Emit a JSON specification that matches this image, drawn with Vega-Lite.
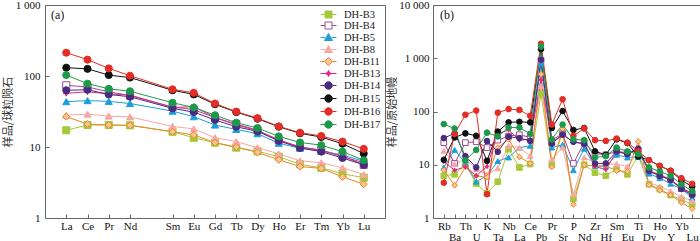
{
  "$schema": "https://vega.github.io/schema/vega-lite/v6.json",
  "padding": {"left": 1, "top": -2, "right": 0, "bottom": 0},
  "spacing": 0,
  "config": {
    "font": "Liberation Serif",
    "view": {"stroke": "#666", "strokeWidth": 1},
    "axis": {"grid": false, "domain": false, "tickColor": "#666", "tickSize": -4, "labelFont": "Liberation Serif", "labelFontSize": 11, "labelColor": "#111", "titleFont": "Noto Sans CJK SC", "titleFontSize": 11, "titleFontWeight": "normal", "titleColor": "#333", "titlePadding": 2},
    "legend": {"labelFont": "Liberation Serif", "labelFontSize": 10.5, "labelColor": "#222"}
  },
  "datasets": {
    "ree": [
      {"s":"DH-B3","e":"La","v":17.2},{"s":"DH-B3","e":"Ce","v":20.4},{"s":"DH-B3","e":"Pr","v":20.4},{"s":"DH-B3","e":"Nd","v":20.2},{"s":"DH-B3","e":"Sm","v":16.4},{"s":"DH-B3","e":"Eu","v":13.5},{"s":"DH-B3","e":"Gd","v":11.5},{"s":"DH-B3","e":"Tb","v":9.8},{"s":"DH-B3","e":"Dy","v":8.7},{"s":"DH-B3","e":"Ho","v":7.3},{"s":"DH-B3","e":"Er","v":5.7},{"s":"DH-B3","e":"Tm","v":5.1},{"s":"DH-B3","e":"Yb","v":4.2},{"s":"DH-B3","e":"Lu","v":3.7},
      {"s":"DH-B4","e":"La","v":74},{"s":"DH-B4","e":"Ce","v":70},{"s":"DH-B4","e":"Pr","v":60},{"s":"DH-B4","e":"Nd","v":53},{"s":"DH-B4","e":"Sm","v":36.6},{"s":"DH-B4","e":"Eu","v":33.6},{"s":"DH-B4","e":"Gd","v":26},{"s":"DH-B4","e":"Tb","v":21},{"s":"DH-B4","e":"Dy","v":17.3},{"s":"DH-B4","e":"Ho","v":12.4},{"s":"DH-B4","e":"Er","v":10},{"s":"DH-B4","e":"Tm","v":9},{"s":"DH-B4","e":"Yb","v":7.5},{"s":"DH-B4","e":"Lu","v":5.6},
      {"s":"DH-B5","e":"La","v":43.5},{"s":"DH-B5","e":"Ce","v":45},{"s":"DH-B5","e":"Pr","v":44},{"s":"DH-B5","e":"Nd","v":41},{"s":"DH-B5","e":"Sm","v":32},{"s":"DH-B5","e":"Eu","v":26.7},{"s":"DH-B5","e":"Gd","v":20.4},{"s":"DH-B5","e":"Tb","v":17.7},{"s":"DH-B5","e":"Dy","v":15.4},{"s":"DH-B5","e":"Ho","v":11.3},{"s":"DH-B5","e":"Er","v":9.6},{"s":"DH-B5","e":"Tm","v":8.8},{"s":"DH-B5","e":"Yb","v":7.7},{"s":"DH-B5","e":"Lu","v":6.3},
      {"s":"DH-B8","e":"La","v":28},{"s":"DH-B8","e":"Ce","v":29},{"s":"DH-B8","e":"Pr","v":27.3},{"s":"DH-B8","e":"Nd","v":26.5},{"s":"DH-B8","e":"Sm","v":19.5},{"s":"DH-B8","e":"Eu","v":18},{"s":"DH-B8","e":"Gd","v":13.5},{"s":"DH-B8","e":"Tb","v":11.9},{"s":"DH-B8","e":"Dy","v":9.8},{"s":"DH-B8","e":"Ho","v":8},{"s":"DH-B8","e":"Er","v":6.4},{"s":"DH-B8","e":"Tm","v":6.0},{"s":"DH-B8","e":"Yb","v":5.1},{"s":"DH-B8","e":"Lu","v":4.1},
      {"s":"DH-B11","e":"La","v":26.8},{"s":"DH-B11","e":"Ce","v":21},{"s":"DH-B11","e":"Pr","v":20.4},{"s":"DH-B11","e":"Nd","v":20.2},{"s":"DH-B11","e":"Sm","v":16.4},{"s":"DH-B11","e":"Eu","v":14.8},{"s":"DH-B11","e":"Gd","v":11.5},{"s":"DH-B11","e":"Tb","v":10},{"s":"DH-B11","e":"Dy","v":8.4},{"s":"DH-B11","e":"Ho","v":6.6},{"s":"DH-B11","e":"Er","v":5.3},{"s":"DH-B11","e":"Tm","v":5.0},{"s":"DH-B11","e":"Yb","v":3.8},{"s":"DH-B11","e":"Lu","v":3.0},
      {"s":"DH-B13","e":"La","v":57},{"s":"DH-B13","e":"Ce","v":60},{"s":"DH-B13","e":"Pr","v":56},{"s":"DH-B13","e":"Nd","v":54},{"s":"DH-B13","e":"Sm","v":36},{"s":"DH-B13","e":"Eu","v":37},{"s":"DH-B13","e":"Gd","v":26},{"s":"DH-B13","e":"Tb","v":20.5},{"s":"DH-B13","e":"Dy","v":17},{"s":"DH-B13","e":"Ho","v":12.6},{"s":"DH-B13","e":"Er","v":10},{"s":"DH-B13","e":"Tm","v":9},{"s":"DH-B13","e":"Yb","v":7.3},{"s":"DH-B13","e":"Lu","v":6.0},
      {"s":"DH-B14","e":"La","v":63},{"s":"DH-B14","e":"Ce","v":64},{"s":"DH-B14","e":"Pr","v":55},{"s":"DH-B14","e":"Nd","v":51},{"s":"DH-B14","e":"Sm","v":35},{"s":"DH-B14","e":"Eu","v":31},{"s":"DH-B14","e":"Gd","v":24},{"s":"DH-B14","e":"Tb","v":19.3},{"s":"DH-B14","e":"Dy","v":16.6},{"s":"DH-B14","e":"Ho","v":12.2},{"s":"DH-B14","e":"Er","v":9.7},{"s":"DH-B14","e":"Tm","v":8.6},{"s":"DH-B14","e":"Yb","v":7},{"s":"DH-B14","e":"Lu","v":5.6},
      {"s":"DH-B15","e":"La","v":131},{"s":"DH-B15","e":"Ce","v":126},{"s":"DH-B15","e":"Pr","v":103},{"s":"DH-B15","e":"Nd","v":95},{"s":"DH-B15","e":"Sm","v":63},{"s":"DH-B15","e":"Eu","v":55},{"s":"DH-B15","e":"Gd","v":40},{"s":"DH-B15","e":"Tb","v":31},{"s":"DH-B15","e":"Dy","v":25},{"s":"DH-B15","e":"Ho","v":19.3},{"s":"DH-B15","e":"Er","v":15.6},{"s":"DH-B15","e":"Tm","v":13.8},{"s":"DH-B15","e":"Yb","v":11.1},{"s":"DH-B15","e":"Lu","v":8.1},
      {"s":"DH-B16","e":"La","v":213},{"s":"DH-B16","e":"Ce","v":170},{"s":"DH-B16","e":"Pr","v":128},{"s":"DH-B16","e":"Nd","v":101},{"s":"DH-B16","e":"Sm","v":65},{"s":"DH-B16","e":"Eu","v":58},{"s":"DH-B16","e":"Gd","v":41},{"s":"DH-B16","e":"Tb","v":31.5},{"s":"DH-B16","e":"Dy","v":25.5},{"s":"DH-B16","e":"Ho","v":19.5},{"s":"DH-B16","e":"Er","v":15.9},{"s":"DH-B16","e":"Tm","v":14.3},{"s":"DH-B16","e":"Yb","v":11.9},{"s":"DH-B16","e":"Lu","v":9.4},
      {"s":"DH-B17","e":"La","v":103},{"s":"DH-B17","e":"Ce","v":78},{"s":"DH-B17","e":"Pr","v":66},{"s":"DH-B17","e":"Nd","v":61},{"s":"DH-B17","e":"Sm","v":42},{"s":"DH-B17","e":"Eu","v":36},{"s":"DH-B17","e":"Gd","v":28},{"s":"DH-B17","e":"Tb","v":22},{"s":"DH-B17","e":"Dy","v":18.5},{"s":"DH-B17","e":"Ho","v":14.1},{"s":"DH-B17","e":"Er","v":11.6},{"s":"DH-B17","e":"Tm","v":10.6},{"s":"DH-B17","e":"Yb","v":8.6},{"s":"DH-B17","e":"Lu","v":6.5}
    ],
    "tr": [
      {"s":"DH-B3","e":"Rb","v":6.2},{"s":"DH-B3","e":"Ba","v":6.6},{"s":"DH-B3","e":"Th","v":10},{"s":"DH-B3","e":"U","v":4.4},{"s":"DH-B3","e":"K","v":2.9},{"s":"DH-B3","e":"Ta","v":4.8},{"s":"DH-B3","e":"Nb","v":19.6},{"s":"DH-B3","e":"La","v":8.9},{"s":"DH-B3","e":"Ce","v":10.3},{"s":"DH-B3","e":"Pb","v":214},{"s":"DH-B3","e":"Pr","v":10},{"s":"DH-B3","e":"Sr","v":40},{"s":"DH-B3","e":"P","v":2.3},{"s":"DH-B3","e":"Nd","v":10},{"s":"DH-B3","e":"Zr","v":7.1},{"s":"DH-B3","e":"Hf","v":6.2},{"s":"DH-B3","e":"Sm","v":8.3},{"s":"DH-B3","e":"Eu","v":6.6},{"s":"DH-B3","e":"Ti","v":14.7},{"s":"DH-B3","e":"Dy","v":4.3},{"s":"DH-B3","e":"Ho","v":3.5},{"s":"DH-B3","e":"Y","v":2.7},{"s":"DH-B3","e":"Yb","v":2.2},{"s":"DH-B3","e":"Lu","v":1.8},
      {"s":"DH-B4","e":"Rb","v":26},{"s":"DH-B4","e":"Ba","v":10.6},{"s":"DH-B4","e":"Th","v":26},{"s":"DH-B4","e":"U","v":27},{"s":"DH-B4","e":"K","v":21},{"s":"DH-B4","e":"Ta","v":29},{"s":"DH-B4","e":"Nb","v":34.5},{"s":"DH-B4","e":"La","v":36.6},{"s":"DH-B4","e":"Ce","v":32.6},{"s":"DH-B4","e":"Pb","v":907},{"s":"DH-B4","e":"Pr","v":26},{"s":"DH-B4","e":"Sr","v":37.7},{"s":"DH-B4","e":"P","v":10.6},{"s":"DH-B4","e":"Nd","v":26},{"s":"DH-B4","e":"Zr","v":16.3},{"s":"DH-B4","e":"Hf","v":15.4},{"s":"DH-B4","e":"Sm","v":17.8},{"s":"DH-B4","e":"Eu","v":16.9},{"s":"DH-B4","e":"Ti","v":18.8},{"s":"DH-B4","e":"Dy","v":7.5},{"s":"DH-B4","e":"Ho","v":6.2},{"s":"DH-B4","e":"Y","v":5.2},{"s":"DH-B4","e":"Yb","v":3.6},{"s":"DH-B4","e":"Lu","v":2.8},
      {"s":"DH-B5","e":"Rb","v":8.9},{"s":"DH-B5","e":"Ba","v":19},{"s":"DH-B5","e":"Th","v":10.7},{"s":"DH-B5","e":"U","v":4.8},{"s":"DH-B5","e":"K","v":6.2},{"s":"DH-B5","e":"Ta","v":11.7},{"s":"DH-B5","e":"Nb","v":13.7},{"s":"DH-B5","e":"La","v":21},{"s":"DH-B5","e":"Ce","v":22.7},{"s":"DH-B5","e":"Pb","v":800},{"s":"DH-B5","e":"Pr","v":21},{"s":"DH-B5","e":"Sr","v":23.7},{"s":"DH-B5","e":"P","v":7.9},{"s":"DH-B5","e":"Nd","v":20},{"s":"DH-B5","e":"Zr","v":9.5},{"s":"DH-B5","e":"Hf","v":9.3},{"s":"DH-B5","e":"Sm","v":15.4},{"s":"DH-B5","e":"Eu","v":13.7},{"s":"DH-B5","e":"Ti","v":14},{"s":"DH-B5","e":"Dy","v":6.8},{"s":"DH-B5","e":"Ho","v":5.6},{"s":"DH-B5","e":"Y","v":4.4},{"s":"DH-B5","e":"Yb","v":3.5},{"s":"DH-B5","e":"Lu","v":2.4},
      {"s":"DH-B8","e":"Rb","v":18.3},{"s":"DH-B8","e":"Ba","v":10.3},{"s":"DH-B8","e":"Th","v":12.7},{"s":"DH-B8","e":"U","v":8.3},{"s":"DH-B8","e":"K","v":6.6},{"s":"DH-B8","e":"Ta","v":8.6},{"s":"DH-B8","e":"Nb","v":22.7},{"s":"DH-B8","e":"La","v":21},{"s":"DH-B8","e":"Ce","v":14.7},{"s":"DH-B8","e":"Pb","v":300},{"s":"DH-B8","e":"Pr","v":12.7},{"s":"DH-B8","e":"Sr","v":21},{"s":"DH-B8","e":"P","v":2.8},{"s":"DH-B8","e":"Nd","v":13.7},{"s":"DH-B8","e":"Zr","v":11},{"s":"DH-B8","e":"Hf","v":10.3},{"s":"DH-B8","e":"Sm","v":10.3},{"s":"DH-B8","e":"Eu","v":9.3},{"s":"DH-B8","e":"Ti","v":17},{"s":"DH-B8","e":"Dy","v":4.6},{"s":"DH-B8","e":"Ho","v":3.9},{"s":"DH-B8","e":"Y","v":3.2},{"s":"DH-B8","e":"Yb","v":2.5},{"s":"DH-B8","e":"Lu","v":2.1},
      {"s":"DH-B11","e":"Rb","v":7.9},{"s":"DH-B11","e":"Ba","v":4.1},{"s":"DH-B11","e":"Th","v":9.1},{"s":"DH-B11","e":"U","v":6.2},{"s":"DH-B11","e":"K","v":5.8},{"s":"DH-B11","e":"Ta","v":21},{"s":"DH-B11","e":"Nb","v":30},{"s":"DH-B11","e":"La","v":14},{"s":"DH-B11","e":"Ce","v":10.6},{"s":"DH-B11","e":"Pb","v":500},{"s":"DH-B11","e":"Pr","v":9.1},{"s":"DH-B11","e":"Sr","v":47.5},{"s":"DH-B11","e":"P","v":1.8},{"s":"DH-B11","e":"Nd","v":10},{"s":"DH-B11","e":"Zr","v":9.5},{"s":"DH-B11","e":"Hf","v":9.5},{"s":"DH-B11","e":"Sm","v":7.7},{"s":"DH-B11","e":"Eu","v":7.5},{"s":"DH-B11","e":"Ti","v":27.4},{"s":"DH-B11","e":"Dy","v":4.2},{"s":"DH-B11","e":"Ho","v":3.3},{"s":"DH-B11","e":"Y","v":2.7},{"s":"DH-B11","e":"Yb","v":1.95},{"s":"DH-B11","e":"Lu","v":1.5},
      {"s":"DH-B13","e":"Rb","v":11.5},{"s":"DH-B13","e":"Ba","v":7.9},{"s":"DH-B13","e":"Th","v":9.1},{"s":"DH-B13","e":"U","v":6.2},{"s":"DH-B13","e":"K","v":9.3},{"s":"DH-B13","e":"Ta","v":38},{"s":"DH-B13","e":"Nb","v":45},{"s":"DH-B13","e":"La","v":29},{"s":"DH-B13","e":"Ce","v":30},{"s":"DH-B13","e":"Pb","v":392},{"s":"DH-B13","e":"Pr","v":29},{"s":"DH-B13","e":"Sr","v":38},{"s":"DH-B13","e":"P","v":26},{"s":"DH-B13","e":"Nd","v":26},{"s":"DH-B13","e":"Zr","v":9.3},{"s":"DH-B13","e":"Hf","v":8.1},{"s":"DH-B13","e":"Sm","v":17.8},{"s":"DH-B13","e":"Eu","v":15.8},{"s":"DH-B13","e":"Ti","v":21},{"s":"DH-B13","e":"Dy","v":7.7},{"s":"DH-B13","e":"Ho","v":6.5},{"s":"DH-B13","e":"Y","v":5.3},{"s":"DH-B13","e":"Yb","v":3.7},{"s":"DH-B13","e":"Lu","v":2.9},
      {"s":"DH-B14","e":"Rb","v":31.7},{"s":"DH-B14","e":"Ba","v":38.8},{"s":"DH-B14","e":"Th","v":14.5},{"s":"DH-B14","e":"U","v":8.9},{"s":"DH-B14","e":"K","v":27.8},{"s":"DH-B14","e":"Ta","v":17.5},{"s":"DH-B14","e":"Nb","v":33.6},{"s":"DH-B14","e":"La","v":31.7},{"s":"DH-B14","e":"Ce","v":28},{"s":"DH-B14","e":"Pb","v":933},{"s":"DH-B14","e":"Pr","v":25},{"s":"DH-B14","e":"Sr","v":36.6},{"s":"DH-B14","e":"P","v":27},{"s":"DH-B14","e":"Nd","v":24.4},{"s":"DH-B14","e":"Zr","v":10.6},{"s":"DH-B14","e":"Hf","v":10.6},{"s":"DH-B14","e":"Sm","v":17.8},{"s":"DH-B14","e":"Eu","v":15.8},{"s":"DH-B14","e":"Ti","v":20},{"s":"DH-B14","e":"Dy","v":7.7},{"s":"DH-B14","e":"Ho","v":6.2},{"s":"DH-B14","e":"Y","v":5.2},{"s":"DH-B14","e":"Yb","v":3.5},{"s":"DH-B14","e":"Lu","v":2.7},
      {"s":"DH-B15","e":"Rb","v":12.4},{"s":"DH-B15","e":"Ba","v":32.6},{"s":"DH-B15","e":"Th","v":38.8},{"s":"DH-B15","e":"U","v":35},{"s":"DH-B15","e":"K","v":11.9},{"s":"DH-B15","e":"Ta","v":42},{"s":"DH-B15","e":"Nb","v":62.5},{"s":"DH-B15","e":"La","v":64},{"s":"DH-B15","e":"Ce","v":62.5},{"s":"DH-B15","e":"Pb","v":1480},{"s":"DH-B15","e":"Pr","v":49},{"s":"DH-B15","e":"Sr","v":102},{"s":"DH-B15","e":"P","v":45},{"s":"DH-B15","e":"Nd","v":49},{"s":"DH-B15","e":"Zr","v":17.8},{"s":"DH-B15","e":"Hf","v":15.4},{"s":"DH-B15","e":"Sm","v":30},{"s":"DH-B15","e":"Eu","v":25.5},{"s":"DH-B15","e":"Ti","v":14.3},{"s":"DH-B15","e":"Dy","v":12.2},{"s":"DH-B15","e":"Ho","v":9.5},{"s":"DH-B15","e":"Y","v":7.7},{"s":"DH-B15","e":"Yb","v":5.1},{"s":"DH-B15","e":"Lu","v":3.9},
      {"s":"DH-B16","e":"Rb","v":4.6},{"s":"DH-B16","e":"Ba","v":38},{"s":"DH-B16","e":"Th","v":87},{"s":"DH-B16","e":"U","v":104},{"s":"DH-B16","e":"K","v":2.8},{"s":"DH-B16","e":"Ta","v":95},{"s":"DH-B16","e":"Nb","v":111},{"s":"DH-B16","e":"La","v":107},{"s":"DH-B16","e":"Ce","v":83},{"s":"DH-B16","e":"Pb","v":1870},{"s":"DH-B16","e":"Pr","v":57},{"s":"DH-B16","e":"Sr","v":170},{"s":"DH-B16","e":"P","v":35},{"s":"DH-B16","e":"Nd","v":48},{"s":"DH-B16","e":"Zr","v":29},{"s":"DH-B16","e":"Hf","v":28},{"s":"DH-B16","e":"Sm","v":31},{"s":"DH-B16","e":"Eu","v":26},{"s":"DH-B16","e":"Ti","v":18},{"s":"DH-B16","e":"Dy","v":12.2},{"s":"DH-B16","e":"Ho","v":9.5},{"s":"DH-B16","e":"Y","v":7.7},{"s":"DH-B16","e":"Yb","v":5.6},{"s":"DH-B16","e":"Lu","v":4.4},
      {"s":"DH-B17","e":"Rb","v":58},{"s":"DH-B17","e":"Ba","v":48},{"s":"DH-B17","e":"Th","v":12.2},{"s":"DH-B17","e":"U","v":19},{"s":"DH-B17","e":"K","v":40},{"s":"DH-B17","e":"Ta","v":34},{"s":"DH-B17","e":"Nb","v":50},{"s":"DH-B17","e":"La","v":50},{"s":"DH-B17","e":"Ce","v":38},{"s":"DH-B17","e":"Pb","v":1660},{"s":"DH-B17","e":"Pr","v":30},{"s":"DH-B17","e":"Sr","v":57},{"s":"DH-B17","e":"P","v":30},{"s":"DH-B17","e":"Nd","v":29},{"s":"DH-B17","e":"Zr","v":13.7},{"s":"DH-B17","e":"Hf","v":14.5},{"s":"DH-B17","e":"Sm","v":21},{"s":"DH-B17","e":"Eu","v":17.8},{"s":"DH-B17","e":"Ti","v":15.8},{"s":"DH-B17","e":"Dy","v":8.9},{"s":"DH-B17","e":"Ho","v":7.5},{"s":"DH-B17","e":"Y","v":6.2},{"s":"DH-B17","e":"Yb","v":4.3},{"s":"DH-B17","e":"Lu","v":3.2}
    ]
  },
  "hconcat": [
    {
      "width": 340,
      "height": 213,
      "title": {"text": "(a)", "anchor": "start", "frame": "group", "offset": -23, "dx": 6, "fontSize": 12, "font": "Liberation Serif", "fontWeight": "normal", "color": "#111"},
      "data": {"name": "ree"},
      "layer": [
        {
          "mark": {"type": "line", "strokeWidth": 1},
          "encoding": {
            "x": {"field": "e", "type": "ordinal", "scale": {"type": "point", "domain": ["La","Ce","Pr","Nd","Pm","Sm","Eu","Gd","Tb","Dy","Ho","Er","Tm","Yb","Lu"], "padding": 1},
                  "axis": {"title": null, "labelAngle": 0, "labelPadding": 6, "labelExpr": "datum.value === 'Pm' ? '' : datum.value", "tickOpacity": {"condition": {"test": "datum.value === 'Pm'", "value": 0}, "value": 1}}},
            "y": {"field": "v", "type": "quantitative", "scale": {"type": "log", "domain": [1, 1000], "nice": false},
                  "axis": {"title": "样品/球粒陨石", "values": [1, 10, 100, 1000], "labelPadding": 9, "labelExpr": "datum.value >= 1000 ? replace(format(datum.value, ','), ',', ' ') : format(datum.value, 'd')"}},
            "stroke": {"field": "s", "type": "nominal", "scale": {"domain": ["DH-B3","DH-B4","DH-B5","DH-B8","DH-B11","DH-B13","DH-B14","DH-B15","DH-B16","DH-B17"], "range": ["#a6c93a","#9e4a8c","#1b9fdb","#f7a7a5","#f0821f","#e5267c","#4a2a82","#111111","#e52d27","#1b9a4a"]}, "legend": null},
            "order": {"value": null}
          }
        },
        {
          "mark": {"type": "point", "filled": true, "size": 50, "strokeWidth": 1, "opacity": 1},
          "encoding": {
            "x": {"field": "e", "type": "ordinal"},
            "y": {"field": "v", "type": "quantitative"},
            "stroke": {"field": "s", "type": "nominal", "scale": {"domain": ["DH-B3","DH-B4","DH-B5","DH-B8","DH-B11","DH-B13","DH-B14","DH-B15","DH-B16","DH-B17"], "range": ["#a6c93a","#9e4a8c","#1b9fdb","#f7a7a5","#f0821f","#e5267c","#4a2a82","#111111","#e52d27","#1b9a4a"]}, "legend": null},
            "fill": {"field": "s", "type": "nominal", "scale": {"domain": ["DH-B3","DH-B4","DH-B5","DH-B8","DH-B11","DH-B13","DH-B14","DH-B15","DH-B16","DH-B17"], "range": ["#a6c93a","#ffffff","#1b9fdb","#f7a7a5","#f8c49a","#e5267c","#4a2a82","#111111","#e52d27","#1b9a4a"]}, "legend": null},
            "shape": {"field": "s", "type": "nominal", "scale": {"domain": ["DH-B3","DH-B4","DH-B5","DH-B8","DH-B11","DH-B13","DH-B14","DH-B15","DH-B16","DH-B17"], "range": ["square","square","triangle-up","triangle-up","diamond","M0,-0.8L0.25,-0.25L0.8,0L0.25,0.25L0,0.8L-0.25,0.25L-0.8,0L-0.25,-0.25Z","circle","circle","circle","circle"]}, "legend": null}
          }
        },
        {
          "transform": [{"filter": "false"}],
          "mark": {"type": "point", "filled": true, "strokeWidth": 1, "opacity": 1},
          "encoding": {
            "stroke": {"field": "s", "type": "nominal", "scale": {"domain": ["DH-B3","DH-B4","DH-B5","DH-B8","DH-B11","DH-B13","DH-B14","DH-B15","DH-B16","DH-B17"], "range": ["#a6c93a","#9e4a8c","#1b9fdb","#f7a7a5","#f0821f","#e5267c","#4a2a82","#111111","#e52d27","#1b9a4a"]}, "legend": {"title": null}},
            "fill": {"field": "s", "type": "nominal", "scale": {"domain": ["DH-B3","DH-B4","DH-B5","DH-B8","DH-B11","DH-B13","DH-B14","DH-B15","DH-B16","DH-B17"], "range": ["#a6c93a","#ffffff","#1b9fdb","#f7a7a5","#f8c49a","#e5267c","#4a2a82","#111111","#e52d27","#1b9a4a"]}, "legend": {"title": null}},
            "shape": {"field": "s", "type": "nominal", "scale": {"domain": ["DH-B3","DH-B4","DH-B5","DH-B8","DH-B11","DH-B13","DH-B14","DH-B15","DH-B16","DH-B17"], "range": [
              "M-1.6,0H-0.7M0.7,0H1.6M-0.7,-0.7H0.7V0.7H-0.7Z",
              "M-1.6,0H-0.7M0.7,0H1.6M-0.7,-0.7H0.7V0.7H-0.7Z",
              "M-1.6,0H-0.7M0.7,0H1.6M0,-0.8L0.8,0.6H-0.8Z",
              "M-1.6,0H-0.7M0.7,0H1.6M0,-0.8L0.8,0.6H-0.8Z",
              "M-1.6,0H-0.8M0.8,0H1.6M0,-0.8L0.8,0L0,0.8L-0.8,0Z",
              "M-1.6,0H1.6M0,-0.6L0.2,-0.2L0.6,0L0.2,0.2L0,0.6L-0.2,0.2L-0.6,0L-0.2,-0.2Z",
              "M-1.6,0H-0.75M0.75,0H1.6M-0.75,0A0.75,0.75 0 1,0 0.75,0A0.75,0.75 0 1,0 -0.75,0Z",
              "M-1.6,0H-0.75M0.75,0H1.6M-0.75,0A0.75,0.75 0 1,0 0.75,0A0.75,0.75 0 1,0 -0.75,0Z",
              "M-1.6,0H-0.75M0.75,0H1.6M-0.75,0A0.75,0.75 0 1,0 0.75,0A0.75,0.75 0 1,0 -0.75,0Z",
              "M-1.6,0H-0.75M0.75,0H1.6M-0.75,0A0.75,0.75 0 1,0 0.75,0A0.75,0.75 0 1,0 -0.75,0Z"
            ]}, "legend": {"title": null, "orient": "top-right", "offset": 4, "padding": 0, "symbolSize": 100, "symbolStrokeWidth": 1, "labelOffset": 10, "rowPadding": 0, "labelFontSize": 10.5}}
          }
        }
      ],
      "resolve": {"scale": {"shape": "independent", "fill": "independent", "stroke": "independent"}}
    },
    {
      "width": 270,
      "height": 213,
      "title": {"text": "(b)", "anchor": "start", "frame": "group", "offset": -23, "dx": 7, "fontSize": 12, "font": "Liberation Serif", "fontWeight": "normal", "color": "#111"},
      "data": {"name": "tr"},
      "layer": [
        {
          "mark": {"type": "line", "strokeWidth": 1},
          "encoding": {
            "x": {"field": "e", "type": "ordinal", "scale": {"type": "point", "domain": ["Rb","Ba","Th","U","K","Ta","Nb","La","Ce","Pb","Pr","Sr","P","Nd","Zr","Hf","Sm","Eu","Ti","Dy","Ho","Y","Yb","Lu"], "padding": 1},
                  "axis": {"title": null, "labelAngle": 0, "labelOverlap": false, "labelBound": false, "labelPadding": {"condition": {"test": "indexof(['Ba','U','Ta','La','Pb','Sr','Nd','Hf','Eu','Dy','Y','Lu'], datum.value) >= 0", "value": 17}, "value": 6}}},
            "y": {"field": "v", "type": "quantitative", "scale": {"type": "log", "domain": [1, 10000], "nice": false},
                  "axis": {"title": "样品/原始地幔", "titlePadding": 1, "values": [1, 10, 100, 1000, 10000], "labelPadding": 8, "labelExpr": "datum.value >= 1000 ? replace(format(datum.value, ','), ',', ' ') : format(datum.value, 'd')"}},
            "stroke": {"field": "s", "type": "nominal", "scale": {"domain": ["DH-B3","DH-B4","DH-B5","DH-B8","DH-B11","DH-B13","DH-B14","DH-B15","DH-B16","DH-B17"], "range": ["#a6c93a","#9e4a8c","#1b9fdb","#f7a7a5","#f0821f","#e5267c","#4a2a82","#111111","#e52d27","#1b9a4a"]}, "legend": null},
            "order": {"value": null}
          }
        },
        {
          "mark": {"type": "point", "filled": true, "size": 32, "strokeWidth": 1, "opacity": 1},
          "encoding": {
            "x": {"field": "e", "type": "ordinal"},
            "y": {"field": "v", "type": "quantitative"},
            "stroke": {"field": "s", "type": "nominal", "scale": {"domain": ["DH-B3","DH-B4","DH-B5","DH-B8","DH-B11","DH-B13","DH-B14","DH-B15","DH-B16","DH-B17"], "range": ["#a6c93a","#9e4a8c","#1b9fdb","#f7a7a5","#f0821f","#e5267c","#4a2a82","#111111","#e52d27","#1b9a4a"]}, "legend": null},
            "fill": {"field": "s", "type": "nominal", "scale": {"domain": ["DH-B3","DH-B4","DH-B5","DH-B8","DH-B11","DH-B13","DH-B14","DH-B15","DH-B16","DH-B17"], "range": ["#a6c93a","#ffffff","#1b9fdb","#f7a7a5","#f8c49a","#e5267c","#4a2a82","#111111","#e52d27","#1b9a4a"]}, "legend": null},
            "shape": {"field": "s", "type": "nominal", "scale": {"domain": ["DH-B3","DH-B4","DH-B5","DH-B8","DH-B11","DH-B13","DH-B14","DH-B15","DH-B16","DH-B17"], "range": ["square","square","triangle-up","triangle-up","diamond","M0,-0.8L0.25,-0.25L0.8,0L0.25,0.25L0,0.8L-0.25,0.25L-0.8,0L-0.25,-0.25Z","circle","circle","circle","circle"]}, "legend": null}
          }
        }
      ]
    }
  ]
}
